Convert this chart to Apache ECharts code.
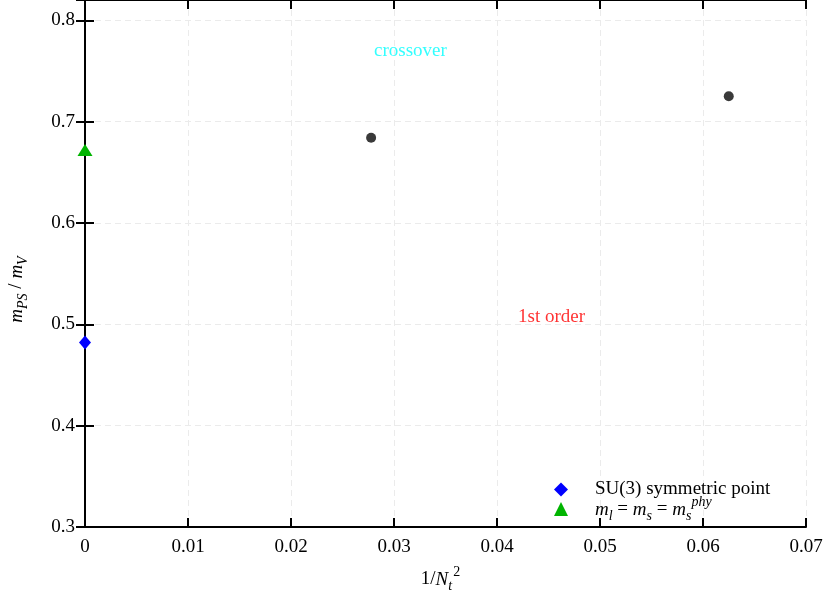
<!DOCTYPE html>
<html>
<head>
<meta charset="utf-8">
<script src="https://cdn.jsdelivr.net/npm/echarts@6/dist/echarts.min.js"></script>
<style>
html, body { margin: 0; padding: 0; background: #fff; }
#main { width: 825px; height: 597px; }
</style>
</head>
<body>
<div id="main"></div>
<script>
// 1/Nt^2 vs mPS/mV
var latticePts = [[1 / 36, 0.684], [1 / 16, 0.725]];
var su3Pt = [[0, 0.482]];
var phyPt = [[0, 0.672]];
var regionLabels = [
	{ name: 'crossover', value: [0.0316, 0.7694], color: '#00ffff' },
	{ name: '1st order', value: [0.0453, 0.5071], color: '#ff0000' }
];
var xTicks = [0, 0.01, 0.02, 0.03, 0.04, 0.05, 0.06, 0.07];
var yTicks = [0.3, 0.4, 0.5, 0.6, 0.7, 0.8];

var font = 'Liberation Serif';
var richMath = {
	n: { fontFamily: font, fontSize: 19, color: '#000', padding: [5, 0, 0, 0], verticalAlign: 'top' },
	i: { fontFamily: font, fontSize: 19, fontStyle: 'italic', color: '#000', padding: [5, 0, 0, 0], verticalAlign: 'top' },
	sb: { fontFamily: font, fontSize: 14, fontStyle: 'italic', color: '#000', padding: [14, 0, 0, 0], verticalAlign: 'top' },
	sp: { fontFamily: font, fontSize: 14, fontStyle: 'italic', color: '#000', padding: [0, 0, 0, 0], verticalAlign: 'top' },
	spn: { fontFamily: font, fontSize: 14, color: '#000', padding: [0, 0, 0, 1], verticalAlign: 'top' }
};

var dom = document.getElementById('main');
var myChart = echarts.init(dom);

var axisLine = { lineStyle: { color: '#000', width: 2 } };
var tickIn = { inside: true, length: 9, lineStyle: { color: '#000', width: 2 } };
var gridLine = { show: true, lineStyle: { color: '#ebebeb', type: [6, 4], width: 1 } };
var labelStyle = { fontFamily: font, fontSize: 19, color: '#000' };

var option = {
	animation: false,
	grid: { left: 85, right: 19, top: 0, bottom: 70, containLabel: false, outerBoundsMode: 'none' },
	legend: {
		data: ['SU(3) symmetric point', 'phy'],
		orient: 'vertical',
		left: 549,
		top: 475,
		itemWidth: 14,
		itemHeight: 14,
		itemGap: -4,
		textStyle: { fontFamily: font, fontSize: 19, color: '#000', padding: [0, 0, 0, 22], rich: richMath },
		formatter: function (name) {
			if (name === 'phy') {
				return '{i|m}{sb|l}{n| = }{i|m}{sb|s}{n| = }{i|m}{sb|s}{sp|phy}';
			}
			return name;
		}
	},
	xAxis: [{
		type: 'value',
		min: 0, max: 0.07, interval: 0.01,
		name: '{n|1/}{i|N}{sb|t}{spn|2}',
		nameLocation: 'middle',
		nameGap: 38,
		nameTextStyle: { rich: richMath, padding: [0, 10, 0, 0] },
		axisLine: axisLine,
		axisTick: tickIn,
		splitLine: gridLine,
		axisLabel: {
			margin: 11,
			textStyle: labelStyle,
			formatter: function (v) {
				var s = xTicks.find(function (t) { return Math.abs(t - v) < 1e-9; });
				return s === undefined ? '' : String(s);
			}
		}
	}, {
		type: 'value',
		position: 'top',
		min: 0, max: 0.07, interval: 0.01,
		axisLine: axisLine,
		axisTick: tickIn,
		axisLabel: { show: false },
		splitLine: { show: false }
	}],
	yAxis: [{
		type: 'value',
		min: 0.3, max: 0.82, interval: 0.1,
		name: '{i|m}{sb|PS}{n| / }{i|m}{sb|V}',
		nameLocation: 'middle',
		nameGap: 55,
		nameTextStyle: { rich: richMath, padding: [0, 52, 0, 0] },
		axisLine: axisLine,
		axisTick: tickIn,
		splitLine: gridLine,
		axisLabel: {
			margin: 10,
			showMaxLabel: false,
			textStyle: labelStyle,
			formatter: function (v) {
				var s = yTicks.find(function (t) { return Math.abs(t - v) < 1e-9; });
				return s === undefined ? '' : s.toFixed(1);
			}
		}
	}, {
		type: 'value',
		position: 'right',
		min: 0.3, max: 0.82, interval: 0.1,
		axisLine: axisLine,
		axisTick: tickIn,
		axisLabel: { show: false },
		splitLine: { show: false }
	}],
	series: [{
		name: 'lattice',
		type: 'scatter',
		symbol: 'circle',
		symbolSize: 10,
		itemStyle: { color: '#3a3a3a', opacity: 1 },
		data: latticePts,
		z: 3
	}, {
		name: 'SU(3) symmetric point',
		type: 'scatter',
		symbol: 'diamond',
		symbolSize: [12, 14],
		itemStyle: { color: '#0000ff', opacity: 1 },
		data: su3Pt,
		z: 4
	}, {
		name: 'phy',
		type: 'scatter',
		symbol: 'triangle',
		symbolSize: [15, 12],
		itemStyle: { color: '#00b400', opacity: 1 },
		data: phyPt,
		z: 4
	}, {
		name: 'labels',
		type: 'scatter',
		symbolSize: 0,
		silent: true,
		data: regionLabels.map(function (d) {
			return {
				name: d.name,
				value: d.value,
				label: {
					show: true,
					position: 'inside',
					formatter: '{b}',
					fontFamily: font,
					fontSize: 19,
					color: d.color
				}
			};
		})
	}]
};

if (option && typeof option === 'object') {
	myChart.setOption(option, true);
}
</script>
</body>
</html>
